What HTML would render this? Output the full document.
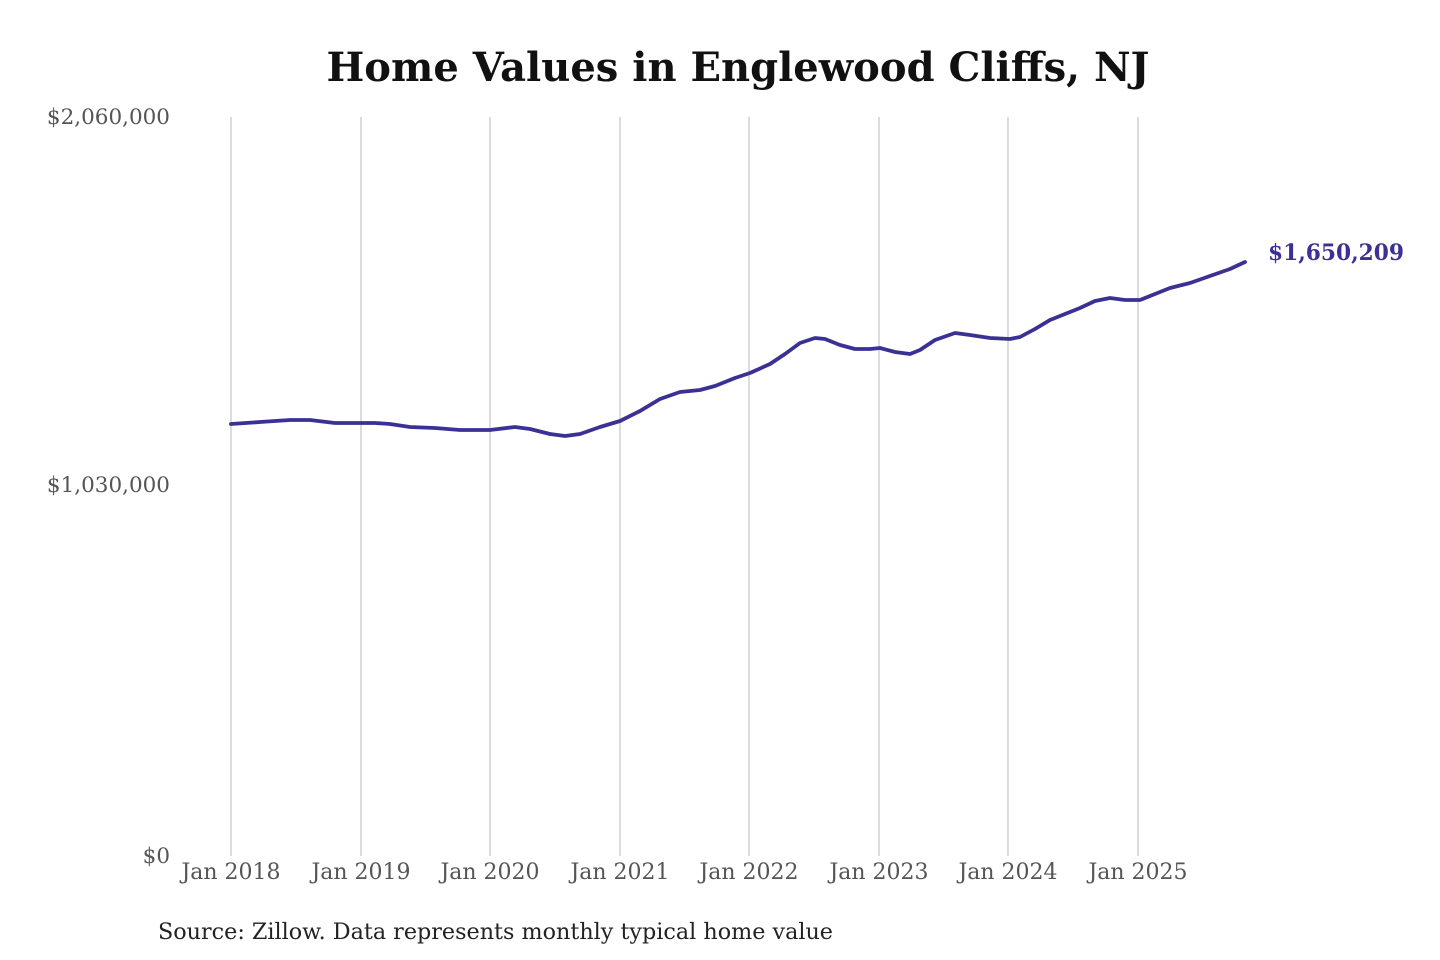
<!DOCTYPE html>
<html><head><meta charset="utf-8"><style>
html,body{margin:0;padding:0;background:#fff;}
svg{display:block;}
</style></head><body>
<svg width="1440" height="960" viewBox="0 0 1440 960" xmlns="http://www.w3.org/2000/svg" font-family="'DejaVu Serif','Liberation Serif',serif">
<rect width="1440" height="960" fill="#fff"/>
<text x="738" y="81" text-anchor="middle" font-size="40" font-weight="bold" fill="#111" textLength="823" lengthAdjust="spacingAndGlyphs">Home Values in Englewood Cliffs, NJ</text>
<g stroke="#c8c8c8" stroke-width="1.3">
<line x1="231" y1="117" x2="231" y2="856"/>
<line x1="361" y1="117" x2="361" y2="856"/>
<line x1="490" y1="117" x2="490" y2="856"/>
<line x1="620" y1="117" x2="620" y2="856"/>
<line x1="749" y1="117" x2="749" y2="856"/>
<line x1="879" y1="117" x2="879" y2="856"/>
<line x1="1008" y1="117" x2="1008" y2="856"/>
<line x1="1138" y1="117" x2="1138" y2="856"/>
</g>
<g font-size="21.5" fill="#555" text-anchor="end">
<text x="170" y="124">$2,060,000</text>
<text x="170" y="492">$1,030,000</text>
<text x="170" y="863">$0</text>
</g>
<g font-size="22" fill="#555" text-anchor="middle">
<text x="231" y="879">Jan 2018</text>
<text x="361" y="879">Jan 2019</text>
<text x="490" y="879">Jan 2020</text>
<text x="620" y="879">Jan 2021</text>
<text x="749" y="879">Jan 2022</text>
<text x="879" y="879">Jan 2023</text>
<text x="1008" y="879">Jan 2024</text>
<text x="1138" y="879">Jan 2025</text>
</g>
<polyline fill="none" stroke="#3b3195" stroke-width="3.8" stroke-linejoin="round" stroke-linecap="round" points="231,424 260,422 290,420 310,420 335,423 360,423 375,423 390,424 410,427 435,428 460,430 490,430 515,427 530,429 550,434 565,436 580,434 600,427 620,421 640,411 660,399 680,392 700,390 715,386 735,378 750,373 770,364 785,354 800,343 815,338 825,339 840,345 855,349 870,349 880,348 895,352 910,354 920,350 935,340 955,333 970,335 990,338 1010,339 1020,337 1035,329 1050,320 1065,314 1080,308 1095,301 1110,298 1125,300 1140,300 1155,294 1170,288 1190,283 1210,276 1230,269 1245,262"/>
<text x="1268" y="260" font-size="22" font-weight="bold" fill="#3b3195" textLength="136" lengthAdjust="spacingAndGlyphs">$1,650,209</text>
<text x="158" y="939" font-size="22.5" fill="#222" textLength="675" lengthAdjust="spacingAndGlyphs">Source: Zillow. Data represents monthly typical home value</text>
</svg>
</body></html>
